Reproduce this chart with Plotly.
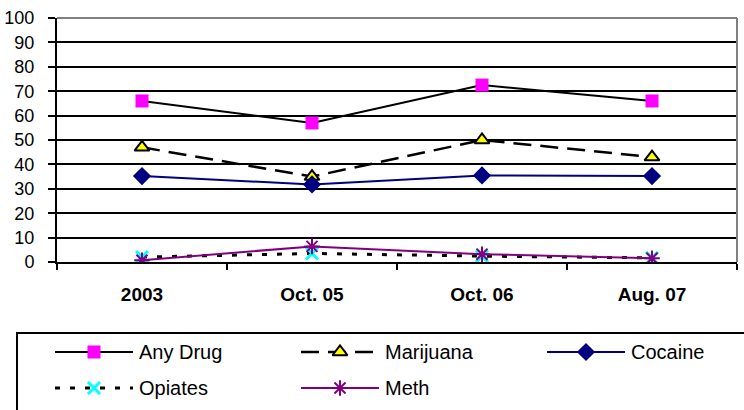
import plotly.graph_objects as go

W, H = 744, 410

# ---- data -------------------------------------------------------------
periods = ["2003", "Oct. 05", "Oct. 06", "Aug. 07"]
any_drug = [66, 57, 72.5, 66]
marijuana = [47, 35, 50, 43]
cocaine = [35.2, 31.8, 35.5, 35.2]
opiates = [2.0, 3.5, 2.4, 1.7]
meth = [0.7, 6.4, 3.2, 1.5]
y_ticks = list(range(0, 101, 10))

FONT = "Arial, Liberation Sans, sans-serif"

# ---- series styling ---------------------------------------------------
series = [
    dict(name="Any Drug", values=any_drug,
         line=dict(color="black", width=2),
         marker=dict(symbol="square", size=13, color="#FF00FF")),
    dict(name="Marijuana", values=marijuana,
         line=dict(color="black", width=2.5, dash="18px,9px"),
         marker=dict(symbol="triangle-up", size=13, color="#FFFF00",
                     line=dict(color="black", width=2))),
    dict(name="Cocaine", values=cocaine,
         line=dict(color="#000080", width=2),
         marker=dict(symbol="diamond", size=14, color="#000080")),
    dict(name="Opiates", values=opiates,
         line=dict(color="black", width=3, dash="5px,10px"),
         marker=dict(symbol="x-thin", size=12, color="#00FFFF",
                     line=dict(color="#00FFFF", width=3))),
    dict(name="Meth", values=meth,
         line=dict(color="#800080", width=2),
         marker=dict(symbol="asterisk", size=13, color="#800080",
                     line=dict(color="#800080", width=2))),
]

fig = go.Figure()

for s in series:
    fig.add_trace(go.Scatter(
        x=periods, y=s["values"], name=s["name"], mode="lines+markers",
        line=s["line"], marker=s["marker"], showlegend=False,
        xaxis="x", yaxis="y",
    ))

# ---- boxed legend drawn on a pixel-scaled overlay axis ----------------
col_left = [55, 301, 547]
row_mid = [352, 388]
sample_len = 78
text_gap = 82

for i, s in enumerate(series):
    x0 = col_left[i % 3]
    yc = row_mid[i // 3]
    fig.add_trace(go.Scatter(
        x=[x0, x0 + sample_len], y=[yc, yc], mode="lines",
        line=s["line"], showlegend=False, hoverinfo="skip",
        xaxis="x2", yaxis="y2",
    ))
    fig.add_trace(go.Scatter(
        x=[x0 + sample_len / 2], y=[yc], mode="markers",
        marker=s["marker"], showlegend=False, hoverinfo="skip",
        xaxis="x2", yaxis="y2",
    ))
    fig.add_annotation(
        x=x0 + text_gap, y=yc, xref="x2", yref="y2", text=s["name"],
        showarrow=False, xanchor="left", yanchor="middle",
        font=dict(family=FONT, size=20, color="black"),
    )

fig.add_shape(type="rect", xref="paper", yref="paper",
              x0=17 / W, x1=1.05, y0=-0.1, y1=1 - 333 / H,
              line=dict(color="black", width=2), fillcolor="rgba(0,0,0,0)")

# grey frame on the top and right of the plotting area
fig.add_shape(type="line", xref="x domain", yref="y domain",
              x0=0, x1=1, y0=1, y1=1, layer="above",
              line=dict(color="#808080", width=2))
fig.add_shape(type="line", xref="x domain", yref="y domain",
              x0=1, x1=1, y0=0, y1=1, layer="above",
              line=dict(color="#808080", width=2))

fig.update_layout(
    template="none",
    width=W, height=H, autosize=False,
    margin=dict(l=0, r=0, t=0, b=0, pad=0),
    paper_bgcolor="white", plot_bgcolor="rgba(0,0,0,0)",
    font=dict(family=FONT, color="black"),
    xaxis=dict(
        domain=[57 / W, 737 / W], anchor="y", automargin=False,
        type="category", categoryarray=periods, categoryorder="array",
        range=[-0.5, len(periods) - 0.5],
        tickson="boundaries", ticks="outside", ticklen=6, tickwidth=2,
        tickcolor="black", showline=True, linecolor="black", linewidth=2,
        showgrid=False, zeroline=False,
        tickfont=dict(family=FONT, size=19, color="black", weight="bold"),
        ticklabelstandoff=14,
    ),
    yaxis=dict(
        domain=[1 - 262 / H, 1 - 18 / H], anchor="x", automargin=False,
        range=[0, 100], tickvals=y_ticks,
        showgrid=True, gridcolor="black", gridwidth=2,
        ticks="outside", ticklen=7, tickwidth=2, tickcolor="black",
        showline=True, linecolor="black", linewidth=2, zeroline=False,
        tickfont=dict(family=FONT, size=18, color="black"),
        ticklabelstandoff=10,
    ),
    xaxis2=dict(domain=[0, 1], anchor="y2", range=[0, W], visible=False,
                fixedrange=True, automargin=False),
    yaxis2=dict(domain=[0, 1], anchor="x2", range=[H, 0], visible=False,
                fixedrange=True, automargin=False),
)

fig.write_html("out.html")
